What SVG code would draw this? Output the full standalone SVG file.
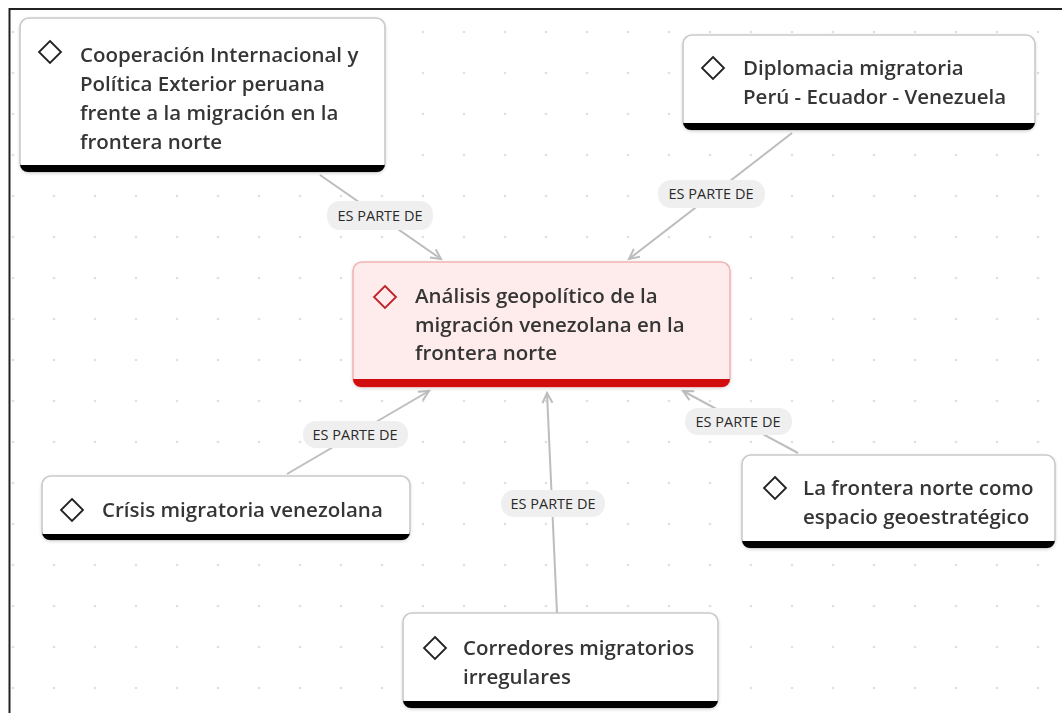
<svg xmlns="http://www.w3.org/2000/svg" width="1062" height="713" viewBox="0 0 1062 713">
<style>
.node{fill:#fff;stroke:#c9c9c9;stroke-width:1.6}
.bar{fill:#000}
.dia{fill:none;stroke:#222;stroke-width:1.8}
.t{font-family:"Open Sans","Segoe UI","Noto Sans",sans-serif;font-size:20.5px;font-weight:600;fill:#363636}
.pill{fill:#efefef}
.lt{font-family:"Open Sans","Segoe UI","Noto Sans",sans-serif;font-size:14.5px;fill:#2a2a2a;text-anchor:middle}
.edge{stroke:#bdbdbd;stroke-width:2;fill:none;marker-end:url(#arr)}
</style>
<defs>
<pattern id="dots" patternUnits="userSpaceOnUse" width="41" height="41">
<circle cx="13" cy="32" r="1.3" fill="#e0e0e0"/>
</pattern>
<marker id="arr" markerUnits="userSpaceOnUse" markerWidth="14" markerHeight="14" refX="11" refY="6" orient="auto">
<path d="M1,1 L11,6 L1,11" fill="none" stroke="#bdbdbd" stroke-width="2"/>
</marker>
<filter id="sh" x="-5%" y="-10%" width="110%" height="125%">
<feDropShadow dx="0" dy="1" stdDeviation="1.5" flood-color="#000" flood-opacity="0.15"/>
</filter>
</defs>
<rect width="1062" height="713" fill="#fff"/>
<rect x="10" y="10" width="1052" height="703" fill="url(#dots)"/>
<path d="M9.5,713 V9 H1062" fill="none" stroke="#222" stroke-width="2"/>

<g id="connectors">
<line class="edge" x1="320" y1="175" x2="441" y2="259"/>
<line class="edge" x1="792" y1="133" x2="629" y2="259"/>
<line class="edge" x1="287" y1="474" x2="429" y2="391"/>
<line class="edge" x1="798" y1="453" x2="683" y2="391"/>
<line class="edge" x1="557" y1="613" x2="547" y2="393"/>
<rect class="pill" x="327" y="201" width="106" height="29" rx="13"/>
<text class="lt" x="380" y="220.5">ES PARTE DE</text>
<rect class="pill" x="658" y="180" width="107" height="28" rx="13"/>
<text class="lt" x="711" y="199">ES PARTE DE</text>
<rect class="pill" x="303" y="421" width="105" height="27" rx="13"/>
<text class="lt" x="355" y="439.5">ES PARTE DE</text>
<rect class="pill" x="685" y="408" width="107" height="27" rx="13"/>
<text class="lt" x="738" y="426.5">ES PARTE DE</text>
<rect class="pill" x="501" y="490" width="104" height="27" rx="13"/>
<text class="lt" x="553" y="508.5">ES PARTE DE</text>
</g>

<g id="node-cooperacion" filter="url(#sh)">
<rect class="node" x="20" y="18" width="365" height="154" rx="9"/>
<path class="bar" d="M20,165 H385 V164 A8,8 0 0 1 377,172 H28 A8,8 0 0 1 20,164 Z"/>
<path class="dia" d="M50,41 L61,52 L50,63 L39,52 Z"/>
<text class="t"><tspan x="80" y="62">Cooperación Internacional y</tspan><tspan x="80" y="91">Política Exterior peruana</tspan><tspan x="80" y="120">frente a la migración en la</tspan><tspan x="80" y="149">frontera norte</tspan></text>
</g>

<g id="node-diplomacia" filter="url(#sh)">
<rect class="node" x="683" y="35" width="352" height="95" rx="9"/>
<path class="bar" d="M683,123 H1035 V122 A8,8 0 0 1 1027,130 H691 A8,8 0 0 1 683,122 Z"/>
<path class="dia" d="M713,57 L724,68 L713,79 L702,68 Z"/>
<text class="t"><tspan x="743" y="75">Diplomacia migratoria</tspan><tspan x="743" y="104">Perú - Ecuador - Venezuela</tspan></text>
</g>

<g id="node-central" filter="url(#sh)">
<rect x="353" y="262" width="377" height="125" rx="9" fill="#fdeceb" stroke="#f3b4b4" stroke-width="1.6"/>
<path d="M353,379 H730 V379 A8,8 0 0 1 722,387 H361 A8,8 0 0 1 353,379 Z" fill="#d10a0a"/>
<path d="M385,286 L396,297 L385,308 L374,297 Z" fill="none" stroke="#c0202a" stroke-width="1.8"/>
<text class="t"><tspan x="415" y="303">Análisis geopolítico de la</tspan><tspan x="415" y="332">migración venezolana en la</tspan><tspan x="415" y="360">frontera norte</tspan></text>
</g>

<g id="node-crisis" filter="url(#sh)">
<rect class="node" x="42" y="476" width="368" height="64" rx="9"/>
<path class="bar" d="M42,534 H410 V532 A8,8 0 0 1 402,540 H50 A8,8 0 0 1 42,532 Z"/>
<path class="dia" d="M72,499 L83,510 L72,521 L61,510 Z"/>
<text class="t" x="102" y="517">Crísis migratoria venezolana</text>
</g>

<g id="node-frontera" filter="url(#sh)">
<rect class="node" x="742" y="455" width="313" height="93" rx="9"/>
<path class="bar" d="M742,541 H1055 V540 A8,8 0 0 1 1047,548 H750 A8,8 0 0 1 742,540 Z"/>
<path class="dia" d="M775,477 L786,488 L775,499 L764,488 Z"/>
<text class="t"><tspan x="803" y="495">La frontera norte como</tspan><tspan x="803" y="524">espacio geoestratégico</tspan></text>
</g>

<g id="node-corredores" filter="url(#sh)">
<rect class="node" x="403" y="613" width="315" height="95" rx="9"/>
<path class="bar" d="M403,701 H718 V700 A8,8 0 0 1 710,708 H411 A8,8 0 0 1 403,700 Z"/>
<path class="dia" d="M435,637 L446,648 L435,659 L424,648 Z"/>
<text class="t"><tspan x="463" y="655">Corredores migratorios</tspan><tspan x="463" y="684">irregulares</tspan></text>
</g>
</svg>
